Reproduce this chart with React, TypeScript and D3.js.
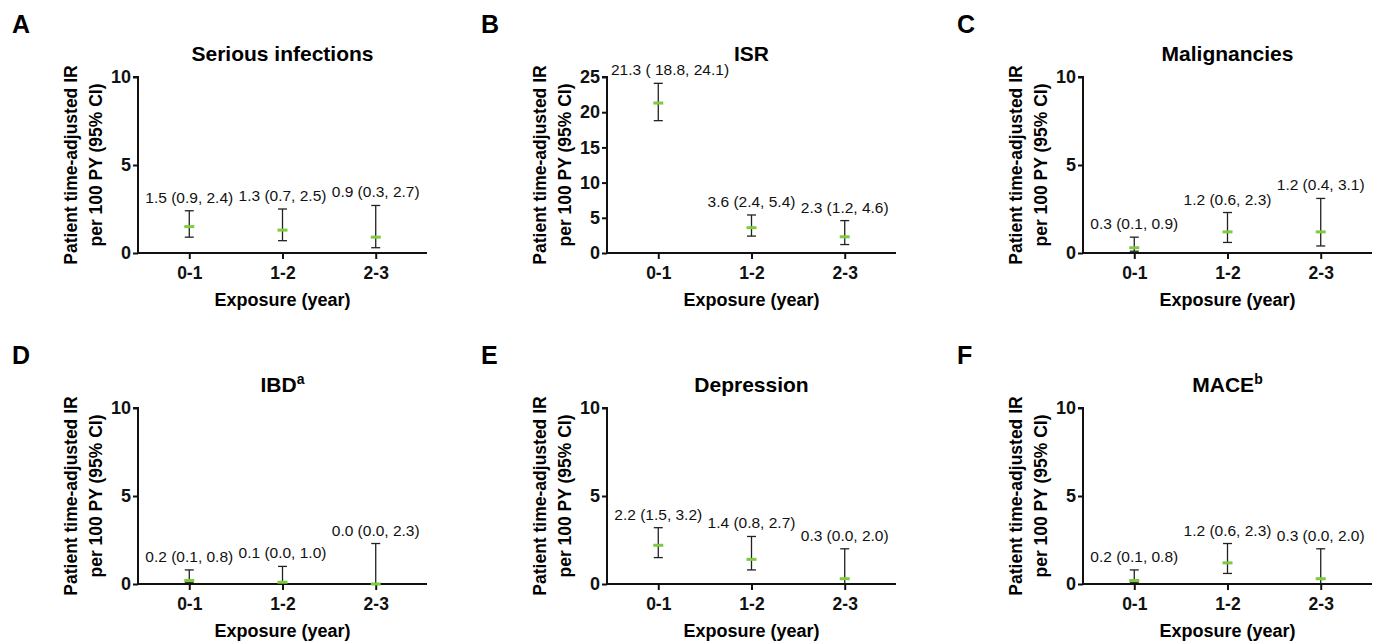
import React, { Component } from 'react';
import * as d3 from 'd3';

// data
const categories = ['0-1', '1-2', '2-3'];
const panelIds = ['A', 'B', 'C', 'D', 'E', 'F'];
const titles = ['Serious infections', 'ISR', 'Malignancies', 'IBD', 'Depression', 'MACE'];
const titleSups = ['', '', '', 'a', '', 'b'];
const yMaxes = [10, 25, 10, 10, 10, 10];
const yTicks = [
    [0, 5, 10],
    [0, 5, 10, 15, 20, 25],
    [0, 5, 10],
    [0, 5, 10],
    [0, 5, 10],
    [0, 5, 10]
];
const rates = [
    [1.5, 1.3, 0.9],
    [21.3, 3.6, 2.3],
    [0.3, 1.2, 1.2],
    [0.2, 0.1, 0.0],
    [2.2, 1.4, 0.3],
    [0.2, 1.2, 0.3]
];
const lowers = [
    [0.9, 0.7, 0.3],
    [18.8, 2.4, 1.2],
    [0.1, 0.6, 0.4],
    [0.1, 0.0, 0.0],
    [1.5, 0.8, 0.0],
    [0.1, 0.6, 0.0]
];
const uppers = [
    [2.4, 2.5, 2.7],
    [24.1, 5.4, 4.6],
    [0.9, 2.3, 3.1],
    [0.8, 1.0, 2.3],
    [3.2, 2.7, 2.0],
    [0.8, 2.3, 2.0]
];
const valueLabels = [
    ['1.5 (0.9, 2.4)', '1.3 (0.7, 2.5)', '0.9 (0.3, 2.7)'],
    ['21.3 ( 18.8, 24.1)', '3.6 (2.4, 5.4)', '2.3 (1.2, 4.6)'],
    ['0.3 (0.1, 0.9)', '1.2 (0.6, 2.3)', '1.2 (0.4, 3.1)'],
    ['0.2 (0.1, 0.8)', '0.1 (0.0, 1.0)', '0.0 (0.0, 2.3)'],
    ['2.2 (1.5, 3.2)', '1.4 (0.8, 2.7)', '0.3 (0.0, 2.0)'],
    ['0.2 (0.1, 0.8)', '1.2 (0.6, 2.3)', '0.3 (0.0, 2.0)']
];
const yLabelLines = ['Patient time-adjusted IR', 'per 100 PY (95% CI)'];
const xLabel = 'Exposure (year)';

// layout
const W = 1374, H = 642;
const colX = [138, 607, 1083];
const rowY = [77, 408];
const plotW = 289, plotH = 176;
const FONT = '"Liberation Sans", Arial, Helvetica, sans-serif';
const GREEN = '#7dcb3e';

class App extends Component {
    svgRef = React.createRef<SVGSVGElement>();

    componentDidMount() {
        document.body.style.margin = '0';
        const svg = d3.select(this.svgRef.current);
        svg.selectAll('*').remove();

        panelIds.forEach((id, p) => {
            const ax = colX[p % 3];
            const top = rowY[Math.floor(p / 3)];
            const bottom = top + plotH;
            const g = svg.append('g').attr('font-family', FONT);

            const x = d3.scalePoint()
                .domain(categories)
                .range([ax, ax + plotW])
                .padding(0.55);
            const y = d3.scaleLinear()
                .domain([0, yMaxes[p]])
                .range([bottom, top]);

            // panel letter
            g.append('text')
                .attr('x', ax - 126)
                .attr('y', top - 44)
                .attr('font-size', 25)
                .attr('font-weight', 'bold')
                .text(id);

            // title
            const t = g.append('text')
                .attr('x', ax + plotW / 2)
                .attr('y', top - 16)
                .attr('text-anchor', 'middle')
                .attr('font-size', 21)
                .attr('font-weight', 'bold')
                .text(titles[p]);
            if (titleSups[p]) {
                t.append('tspan')
                    .attr('dy', -8)
                    .attr('font-size', 14)
                    .text(titleSups[p]);
            }

            // y axis
            const yAxis = d3.axisLeft(y)
                .tickValues(yTicks[p])
                .tickSize(5)
                .tickPadding(2)
                .tickFormat(d3.format('d'));
            const yg = g.append('g')
                .attr('transform', `translate(${ax},0)`)
                .call(yAxis);
            yg.select('.domain').attr('stroke', '#111').attr('stroke-width', 2)
                .attr('d', `M-5,${top}H0V${bottom}`);
            yg.selectAll('.tick line').attr('stroke', '#111').attr('stroke-width', 2);
            yg.selectAll('.tick text')
                .attr('font-family', FONT)
                .attr('font-size', 18)
                .attr('font-weight', 'bold')
                .attr('fill', '#111');

            // x axis
            const xAxis = d3.axisBottom(x).tickSize(6).tickPadding(8);
            const xg = g.append('g')
                .attr('transform', `translate(0,${bottom})`)
                .call(xAxis);
            xg.select('.domain').attr('stroke', '#111').attr('stroke-width', 2)
                .attr('d', `M${ax},0H${ax + plotW}`);
            xg.selectAll('.tick line').attr('stroke', '#111').attr('stroke-width', 2);
            xg.selectAll('.tick text')
                .attr('font-family', FONT)
                .attr('font-size', 17.5)
                .attr('font-weight', 'bold')
                .attr('fill', '#111');

            // axis titles
            g.append('text')
                .attr('x', ax + plotW / 2)
                .attr('y', bottom + 53)
                .attr('text-anchor', 'middle')
                .attr('font-size', 18)
                .attr('font-weight', 'bold')
                .text(xLabel);

            yLabelLines.forEach((line, i) => {
                g.append('text')
                    .attr('transform', `translate(${ax - 61 + i * 25},${(top + bottom) / 2}) rotate(-90)`)
                    .attr('text-anchor', 'middle')
                    .attr('font-size', 17.5)
                    .attr('font-weight', 'bold')
                    .text(line);
            });

            // error bars
            categories.forEach((c, i) => {
                const cx = x(c) as number;
                const yl = y(lowers[p][i]);
                const yu = y(uppers[p][i]);
                const bar = g.append('g').attr('stroke', '#222').attr('stroke-width', 1.3);
                bar.append('line').attr('x1', cx).attr('x2', cx).attr('y1', yl).attr('y2', yu);
                bar.append('line').attr('x1', cx - 4.5).attr('x2', cx + 4.5).attr('y1', yu).attr('y2', yu);
                if (lowers[p][i] > 0) {
                    bar.append('line').attr('x1', cx - 4.5).attr('x2', cx + 4.5).attr('y1', yl).attr('y2', yl);
                }
                g.append('line')
                    .attr('x1', cx - 5).attr('x2', cx + 5)
                    .attr('y1', y(rates[p][i])).attr('y2', y(rates[p][i]))
                    .attr('stroke', GREEN)
                    .attr('stroke-width', 3);

                const lbl = g.append('text')
                    .attr('x', cx)
                    .attr('y', yu - 8)
                    .attr('text-anchor', 'middle')
                    .attr('font-size', 15.5)
                    .attr('fill', '#111')
                    .text(valueLabels[p][i]);
                const w = (lbl.node() as SVGTextElement).getComputedTextLength();
                if (cx - w / 2 < ax + 4) lbl.attr('x', ax + 4 + w / 2);
            });
        });
    }

    render() {
        return (
            <svg ref={this.svgRef} width={W} height={H} style={{ display: 'block', background: '#fff' }} />
        );
    }
}

export default App;
